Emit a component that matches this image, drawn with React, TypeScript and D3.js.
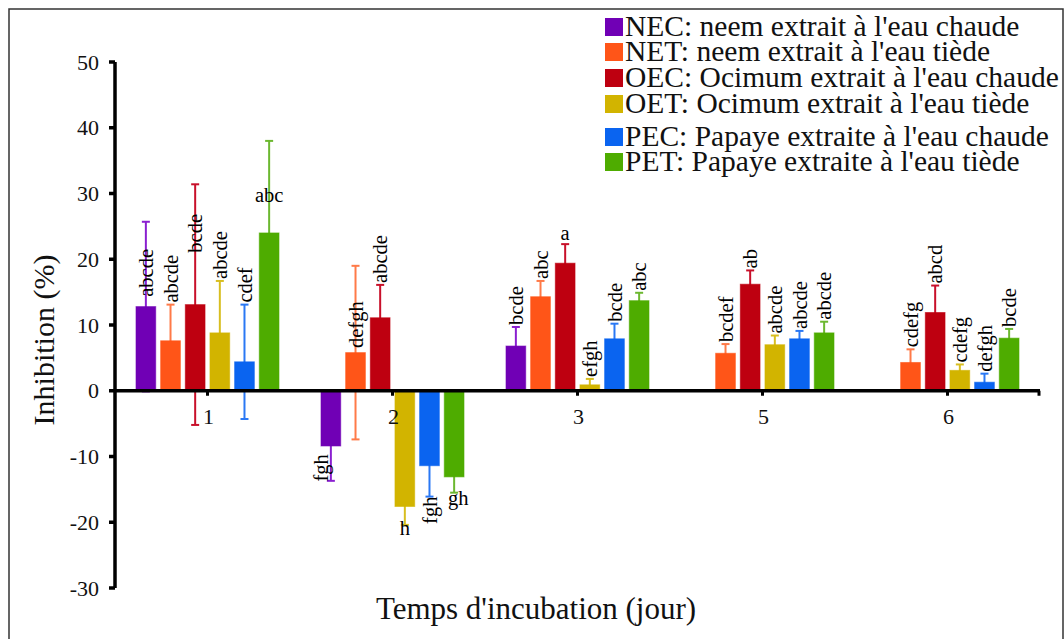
import React from "react";
import * as d3 from "d3";

// ---------- data ----------
const days = ["1", "2", "3", "5", "6"];
const seriesKeys = ["NEC", "NET", "OEC", "OET", "PEC", "PET"];
const legendLabels = [
  "NEC: neem extrait à l'eau chaude",
  "NET: neem extrait à l'eau tiède",
  "OEC: Ocimum extrait à l'eau chaude",
  "OET: Ocimum extrait à l'eau tiède",
  "PEC: Papaye extraite à l'eau chaude",
  "PET: Papaye extraite à l'eau tiède",
];
// values per series, by day (null = no bar)
const NEC = [12.8, -8.4, 6.8, null, null];
const NET = [7.6, 5.8, 14.3, 5.7, 4.3];
const OEC = [13.1, 11.1, 19.4, 16.2, 11.9];
const OET = [8.8, -17.6, 0.9, 7.0, 3.1];
const PEC = [4.4, -11.4, 7.9, 7.9, 1.3];
const PET = [24.0, -13.1, 13.7, 8.8, 8.0];
// standard errors
const NEC_err = [12.9, 5.3, 2.9, null, null];
const NET_err = [5.5, 13.2, 2.4, 1.4, 2.0];
const OEC_err = [18.3, 5.0, 2.9, 2.1, 4.1];
const OET_err = [7.9, 2.8, 0.9, 1.4, 0.9];
const PEC_err = [8.7, 4.7, 2.3, 1.2, 1.3];
const PET_err = [14.0, 2.4, 1.2, 1.7, 1.4];
// significance letters
const NEC_let = ["abcde", "fgh", "bcde", "", ""];
const NET_let = ["abcde", "defgh", "abc", "bcdef", "cdefg"];
const OEC_let = ["bcde", "abcde", "a", "ab", "abcd"];
const OET_let = ["abcde", "h", "efgh", "abcde", "cdefg"];
const PEC_let = ["cdef", "fgh", "bcde", "abcde", "defgh"];
const PET_let = ["abc", "gh", "abc", "abcde", "bcde"];
const yTicks = [-30, -20, -10, 0, 10, 20, 30, 40, 50];

const values = [NEC, NET, OEC, OET, PEC, PET];
const errors = [NEC_err, NET_err, OEC_err, OET_err, PEC_err, PET_err];
const letters = [NEC_let, NET_let, OEC_let, OET_let, PEC_let, PET_let];

// ---------- styles ----------
const colors = ["#7000B5", "#FF5518", "#BE0010", "#D2B400", "#0A64F0", "#4EAC00"];
const errColors = ["#8A1FD0", "#FF7A48", "#C8102A", "#D8BE20", "#2A78F4", "#6CB830"];

// label placement exceptions (key = series-dayIndex)
type LabelRule = { mode: string; at?: number; dx?: number };
const labelRules: Record<string, LabelRule> = {
  "NEC-0": { mode: "upAt", at: 14.3 },
  "OEC-0": { mode: "upAt", at: 21.0 },
  "PET-0": { mode: "hAt", at: 28.7 },
  "NEC-1": { mode: "upAt", at: -13.8, dx: -10 },
  "NET-1": { mode: "upAt", at: 6.5 },
  "OET-1": { mode: "hAt", at: -21.9 },
  "PEC-1": { mode: "downEnd" },
  "PET-1": { mode: "hAt", at: -17.4, dx: 4 },
  "OEC-2": { mode: "hAt", at: 22.9 },
};

const FONT = "Liberation Serif, Times New Roman, serif";
const tStyle = (size: number): React.CSSProperties => ({ fontFamily: FONT, fontSize: size });

export default function App() {
  const W = 1064;
  const H = 639;
  const x0 = 115;
  const x1 = 1040;
  const y = d3.scaleLinear().domain([-30, 50]).range([588, 62]);
  const xBand = d3.scaleBand<string>().domain(days).range([x0, x1]).padding(0);
  const inner = d3
    .scaleBand<string>()
    .domain(seriesKeys)
    .range([21, 164])
    .paddingInner(0.2)
    .paddingOuter(0);
  const bw = inner.bandwidth();
  const y0 = y(0);

  const bars: React.ReactNode[] = [];
  const errs: React.ReactNode[] = [];
  const labs: React.ReactNode[] = [];

  seriesKeys.forEach((s, si) => {
    days.forEach((d, di) => {
      const v = values[si][di];
      if (v === null || v === undefined) return;
      const e = errors[si][di] as number;
      const bx = (xBand(d) as number) + (inner(s) as number);
      const cx = bx + bw / 2;
      const top = Math.min(y(v), y0);
      const h = Math.abs(y(v) - y0);
      bars.push(
        <rect key={`b-${s}-${d}`} x={bx} y={top} width={bw} height={h} fill={colors[si]} stroke={colors[si]} strokeOpacity={0.6} strokeWidth={1} />
      );
      const yHi = y(v + e);
      const yLo = y(v - e);
      errs.push(
        <g key={`e-${s}-${d}`} stroke={errColors[si]} strokeWidth={2}>
          <line x1={cx} x2={cx} y1={yHi} y2={yLo} />
          <line x1={cx - 4} x2={cx + 4} y1={yHi} y2={yHi} />
          <line x1={cx - 4} x2={cx + 4} y1={yLo} y2={yLo} />
        </g>
      );
      const txt = letters[si][di];
      if (!txt) return;
      const rule = labelRules[`${s}-${di}`];
      const st = tStyle(20.5);
      if (!rule) {
        const ys = (v >= 0 ? yHi : yLo) - 2;
        labs.push(
          <text key={`l-${s}-${d}`} transform={`translate(${cx + 1},${ys}) rotate(-90)`} dy="0.3em" style={st} textAnchor="start">
            {txt}
          </text>
        );
      } else if (rule.mode === "upAt") {
        const ys = y(rule.at as number);
        labs.push(
          <text key={`l-${s}-${d}`} transform={`translate(${cx + 1 + (rule.dx || 0)},${ys}) rotate(-90)`} dy="0.3em" style={st} textAnchor="start">
            {txt}
          </text>
        );
      } else if (rule.mode === "downEnd") {
        labs.push(
          <text key={`l-${s}-${d}`} transform={`translate(${cx + 1},${yLo}) rotate(-90)`} dy="0.3em" style={st} textAnchor="end">
            {txt}
          </text>
        );
      } else if (rule.mode === "hAt") {
        labs.push(
          <text key={`l-${s}-${d}`} x={cx + (rule.dx || 0)} y={y(rule.at as number)} style={st} textAnchor="middle">
            {txt}
          </text>
        );
      }
    });
  });

  return (
    <svg width={W} height={H} style={{ position: "absolute", left: 0, top: 0, background: "#fff", fontFamily: FONT }}>
      {/* frame */}
      <path d={`M9,${H + 2} L9,9 L1063,9 L1063,${H + 2}`} fill="none" stroke="#333" strokeWidth={1.5} />

      {errs}
      {bars}

      {/* y axis */}
      <line x1={x0} x2={x0} y1={y(50)} y2={y(-30)} stroke="#000" strokeWidth={3.5} />
      {yTicks.map((t) => (
        <g key={`yt-${t}`}>
          <line x1={x0 - 6} x2={x0} y1={y(t)} y2={y(t)} stroke="#000" strokeWidth={3.5} />
          <text x={99} y={y(t)} dy="0.35em" textAnchor="end" style={tStyle(22)} fill="#111">
            {t}
          </text>
        </g>
      ))}

      {/* x axis */}
      <line x1={x0} x2={x1} y1={y0} y2={y0} stroke="#000" strokeWidth={3.5} />
      <line x1={x1 - 1} x2={x1 - 1} y1={y0} y2={y0 + 5} stroke="#000" strokeWidth={3} />
      {days.map((d) => {
        const cx = (xBand(d) as number) + xBand.bandwidth() / 2;
        return (
          <g key={`xt-${d}`}>
            <line x1={cx} x2={cx} y1={y0} y2={y0 + 5} stroke="#000" strokeWidth={3} />
            <text x={cx + 1} y={424} textAnchor="middle" style={tStyle(22)} fill="#111">
              {d}
            </text>
          </g>
        );
      })}

      {labs}

      {/* axis titles */}
      <text transform="translate(54,340) rotate(-90)" textAnchor="middle" style={tStyle(30)} fill="#111">
        Inhibition (%)
      </text>
      <text x={536} y={619} textAnchor="middle" style={tStyle(31)} fill="#111">
        Temps d'incubation (jour)
      </text>

      {/* legend */}
      {legendLabels.map((lab, i) => {
        const rowY = [36, 61, 87, 113, 146, 171][i];
        return (
          <g key={`lg-${i}`}>
            <rect x={605} y={rowY - 18} width={18} height={18} fill={colors[i]} />
            <text x={625} y={rowY} style={tStyle(29.5)} fill="#111">
              {lab}
            </text>
          </g>
        );
      })}
    </svg>
  );
}
